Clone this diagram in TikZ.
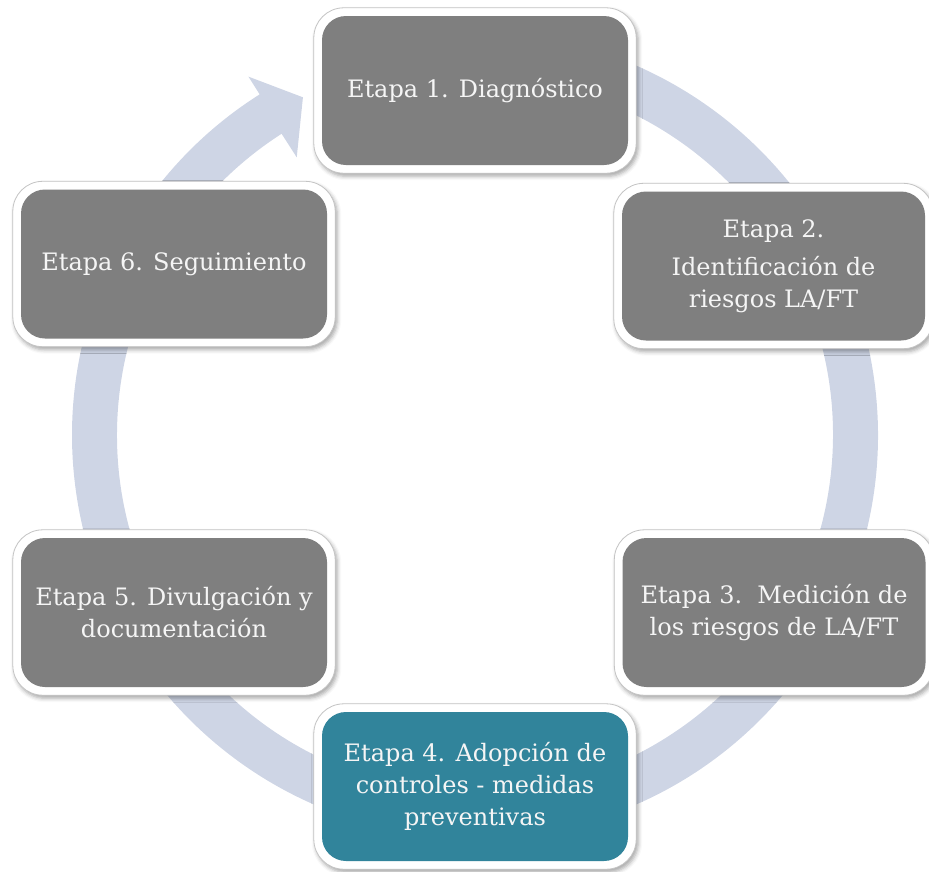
\documentclass[tikz,border=0pt]{standalone}
\usepackage{fontspec}
\setmainfont{DejaVu Serif}
\usetikzlibrary{fit,shadows.blur}
\pgfdeclarelayer{ringlayer}
\pgfdeclarelayer{framelayer}
\pgfsetlayers{ringlayer,framelayer,main}
\definecolor{ringc}{HTML}{CED5E5}
\definecolor{boxgray}{HTML}{7F7F7F}
\definecolor{boxteal}{HTML}{31849B}
\definecolor{frameline}{HTML}{C4C4C4}
\definecolor{txt}{HTML}{F5F5F5}
\tikzset{
  stage/.style={rounded corners=24pt, minimum width=306pt, minimum height=149pt,
    inner sep=0pt, align=center, text=txt, font=\fontsize{24}{32}\selectfont},
  frame/.style={rounded corners=30pt, fill=white, draw=frameline, line width=0.8pt,
    inner sep=8pt, blur shadow={shadow xshift=2pt, shadow yshift=-3pt,
    shadow blur radius=4pt, shadow opacity=35}},
  ringfill/.style={fill=ringc}
}
\begin{document}
\begin{tikzpicture}[x=1pt,y=-1pt]
\useasboundingbox (0,0) rectangle (929,871);
% stages
\node[stage, fill=boxgray] (s1) at (475,90.5) {Etapa 1. Diagnóstico};
\node[stage, fill=boxgray, minimum width=303pt] (s2) at (773.5,266) {Etapa 2.\\[6pt] Identificación de\\ riesgos LA/FT};
\node[stage, fill=boxgray, minimum width=303pt] (s3) at (774,612.5) {Etapa 3.~~Medición de\\ los riesgos de LA/FT};
\node[stage, fill=boxteal] (s4) at (475,786.5) {Etapa 4. Adopción de\\ controles - medidas\\ preventivas};
\node[stage, fill=boxgray] (s5) at (174,612.5) {Etapa 5. Divulgación y\\ documentación};
\node[stage, fill=boxgray] (s6) at (174,264) {Etapa 6. Seguimiento};
% white frames
\begin{pgfonlayer}{framelayer}
\node[frame, fit=(s1)] (f1) {};
\node[frame, fit=(s2)] (f2) {};
\node[frame, fit=(s3)] (f3) {};
\node[frame, fit=(s4)] (f4) {};
\node[frame, fit=(s5)] (f5) {};
\node[frame, fit=(s6)] (f6) {};
\end{pgfonlayer}
% circular arrow
\begin{pgfonlayer}{ringlayer}
\begin{scope}[shift={(475,435)}, yscale=-1]
\fill[ringfill] (95:403) arc[start angle=95, end angle=-237.7, radius=403]
  -- (-237.7:424) -- (-243:379) -- (-237.3:330) -- (-237.3:358)
  arc[start angle=-237.3, end angle=95, radius=358] -- cycle;
\end{scope}
\end{pgfonlayer}
\end{tikzpicture}
\end{document}
